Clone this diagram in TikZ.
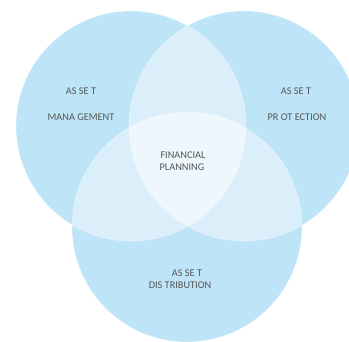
\documentclass[tikz,border=0pt]{standalone}
\usepackage{fontspec}
\setmainfont{Carlito}
\definecolor{vbase}{RGB}{190,229,247}
\definecolor{vpair}{RGB}{219,239,250}
\definecolor{vtrip}{RGB}{238,247,253}
\definecolor{vtext}{RGB}{85,85,85}
\begin{document}
\begin{tikzpicture}[x=1pt,y=-1pt,
  lbl/.style={text=vtext,font=\fontsize{10.3}{12}\selectfont,inner sep=0pt,anchor=center},
  rim/.style={draw=white,draw opacity=0.55,line width=0.5pt}]
\useasboundingbox (0,0) rectangle (349,341);
\clip (0,0) rectangle (349,341);
\def\rr{115}
% base circles
\fill[vbase] (131,126) circle (\rr);
\fill[vbase] (244,126) circle (\rr);
\fill[vbase] (187,227) circle (\rr);
% pairwise overlaps
\begin{scope}
  \clip (131,126) circle (\rr);
  \fill[vpair] (244,126) circle (\rr);
  \fill[vpair] (187,227) circle (\rr);
\end{scope}
\begin{scope}
  \clip (244,126) circle (\rr);
  \fill[vpair] (187,227) circle (\rr);
\end{scope}
% triple overlap
\begin{scope}
  \clip (131,126) circle (\rr);
  \clip (244,126) circle (\rr);
  \fill[vtrip] (187,227) circle (\rr);
\end{scope}
% rims
\path[rim] (131,126) circle (\rr);
\path[rim] (244,126) circle (\rr);
\path[rim] (187,227) circle (\rr);
% labels
\node[lbl] (am1) at (81,91) {AS SE T};
\node[lbl] (am2) at (81,117) {MANA GEMENT};
\node[lbl] (ap1) at (296,91) {AS SE T};
\node[lbl] (ap2) at (297,117) {PR OT ECTION};
\node[lbl] (fp1) at (183,155) {FINANCIAL};
\node[lbl] (fp2) at (182,167) {PLANNING};
\node[lbl] (ad1) at (187,273) {AS SE T};
\node[lbl] (ad2) at (180,285) {DIS TRIBUTION};
\end{tikzpicture}
\end{document}
